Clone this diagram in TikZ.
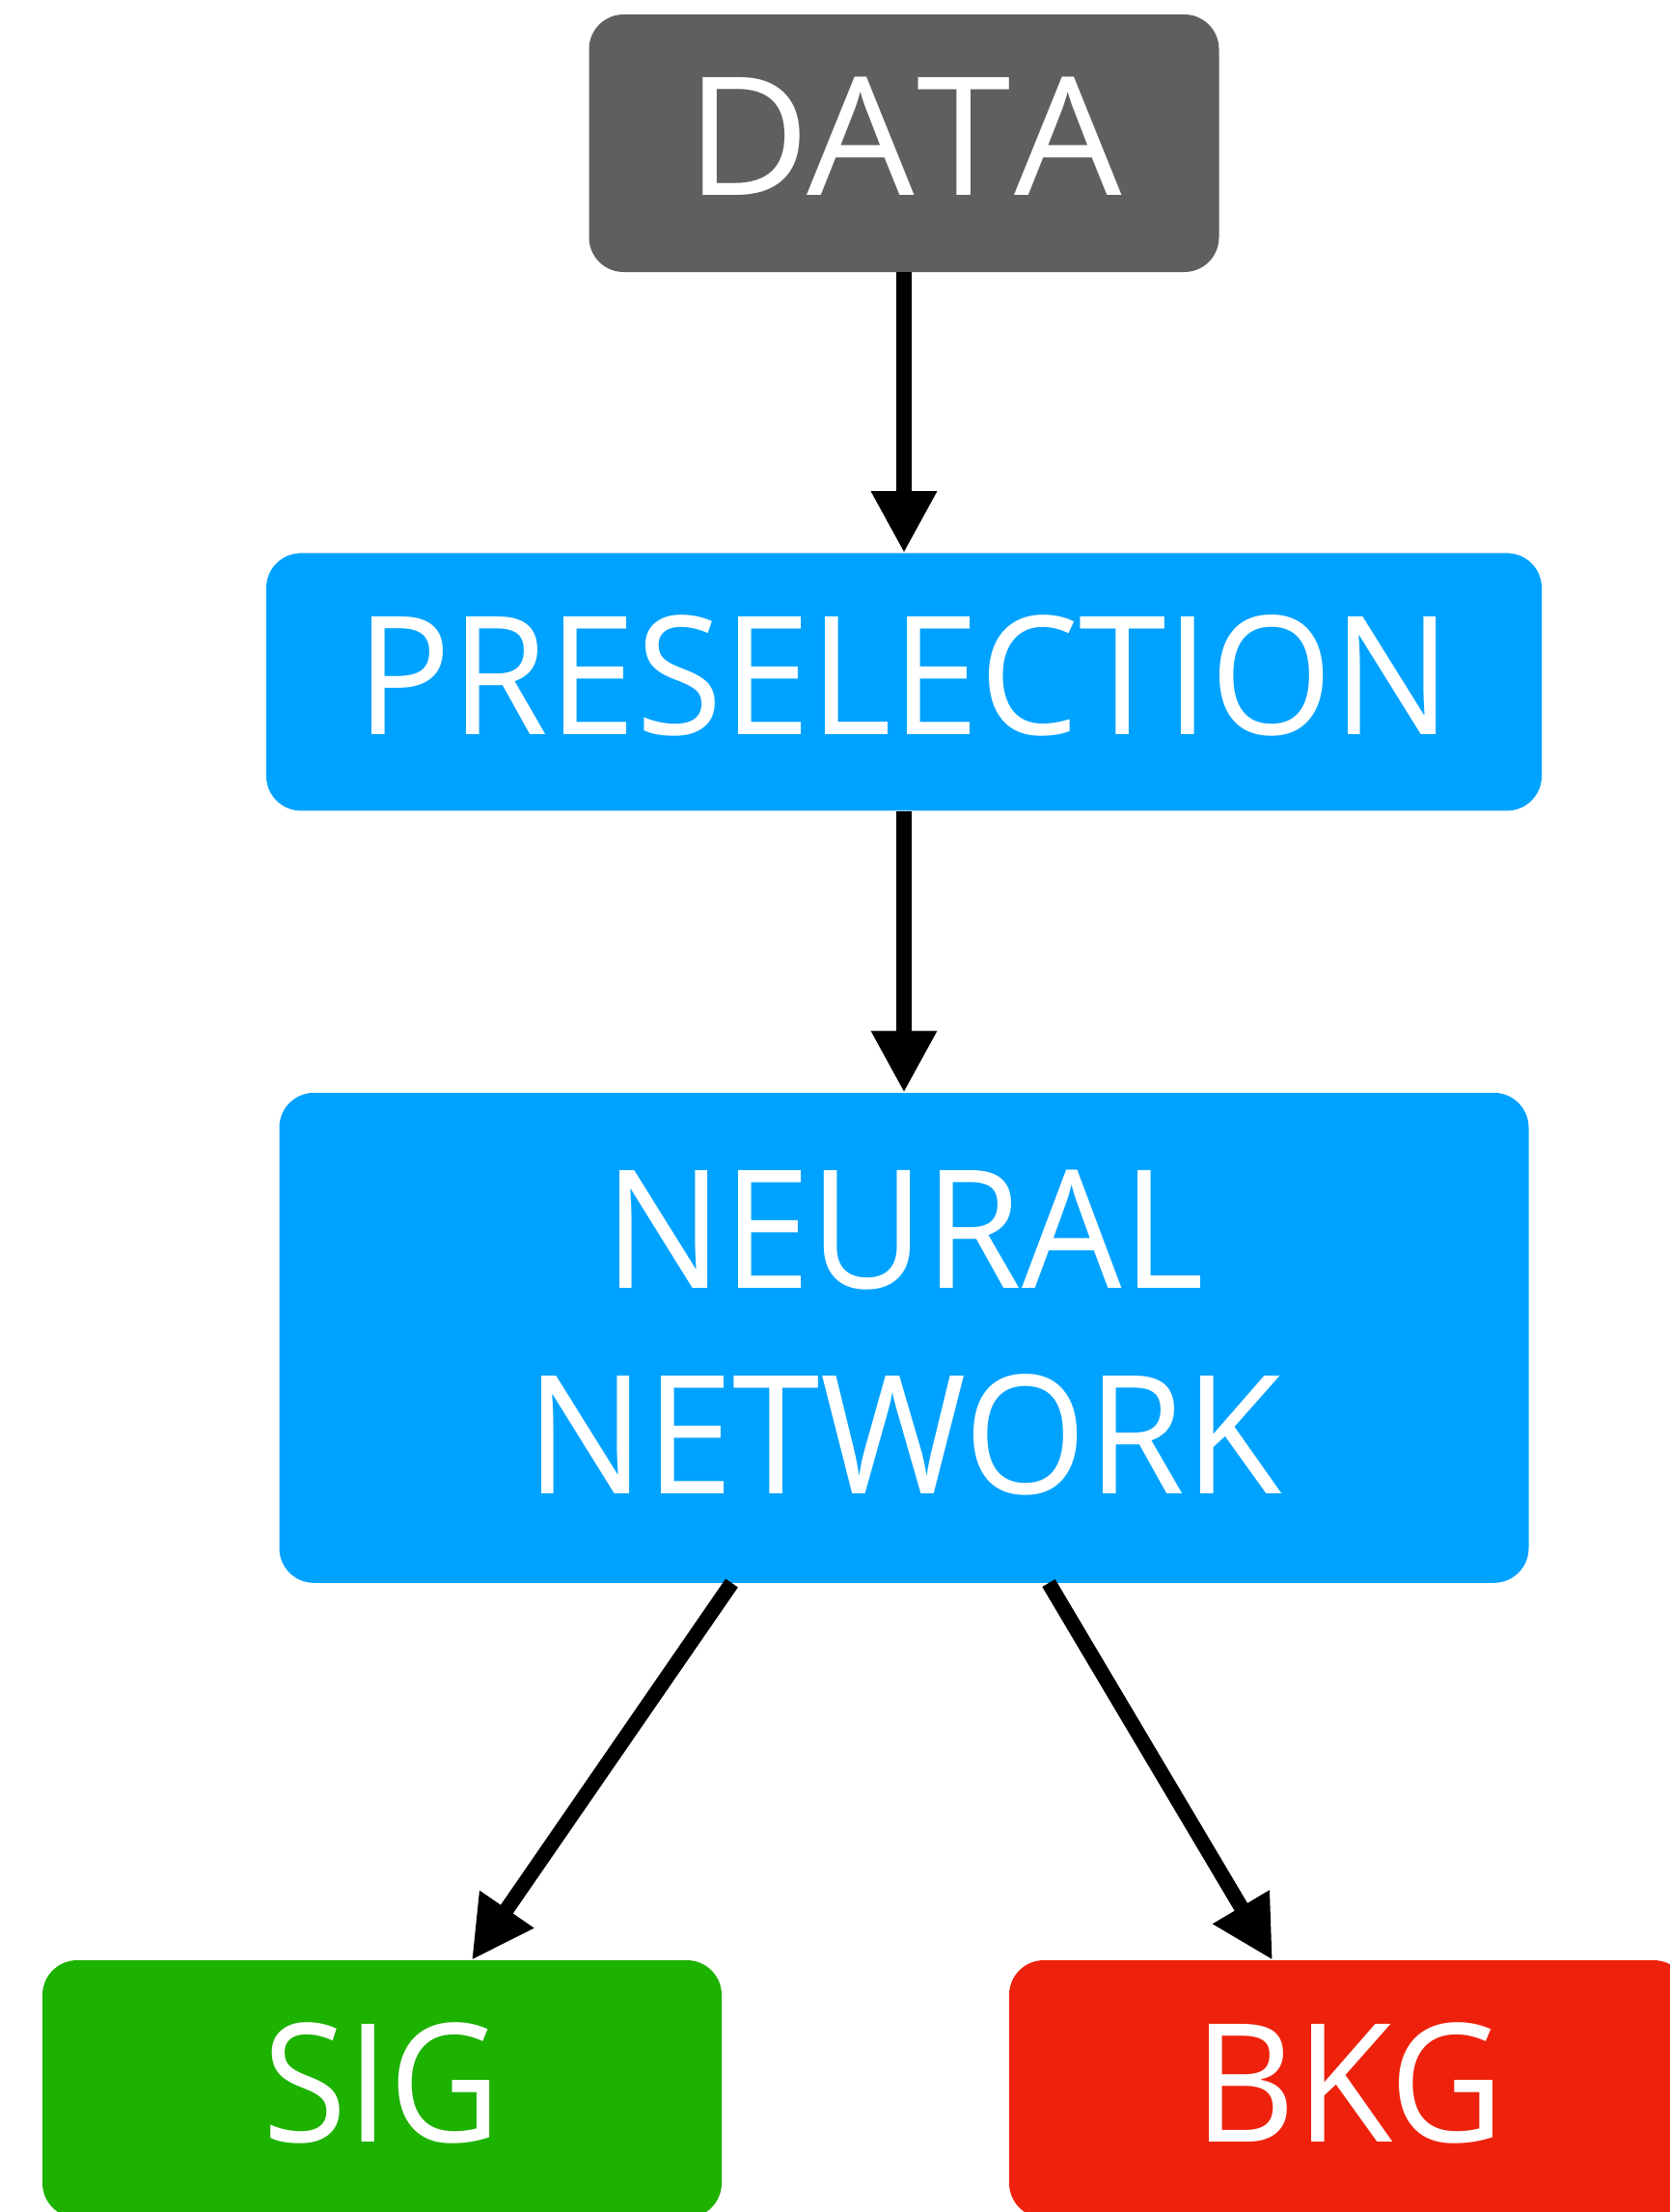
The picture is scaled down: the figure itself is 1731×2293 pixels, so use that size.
\documentclass[tikz,border=0pt]{standalone}
\usepackage{fontspec}
\usepackage{graphicx}
\usepackage{tikz}
\usetikzlibrary{positioning,arrows.meta}
\newfontfamily\flowfont{Open Sans}
\newcommand{\narrow}[2][0.955]{\scalebox{#1}[1]{#2}}
\definecolor{datagray}{RGB}{95,95,95}
\definecolor{keyblue}{RGB}{0,162,255}
\definecolor{keygreen}{RGB}{29,177,0}
\definecolor{keyred}{RGB}{238,34,12}
\tikzset{
    >={Triangle[length=64pt,width=64pt]},
    flowbox/.style={
        rectangle,
        rounded corners=36pt,
        text=white,
        font=\flowfont\fontsize{171}{213}\selectfont,
        align=center,
        inner sep=0pt,
        minimum height=267pt
    },
    flowline/.style={draw, line width=15.5pt, ->}
}

\begin{document}
\begin{tikzpicture}[x=1pt,y=-1pt]
    \useasboundingbox (0,0) rectangle (1731,2293);

    \node[flowbox, fill=datagray, minimum width=653pt, text depth=14pt] (data) at (937,148.5) {\narrow[1.03]{DA\kern3pt T\kern3pt A}};
    \node[flowbox, fill=keyblue, minimum width=1322pt, text depth=14pt, below=291pt of data] (presel) {\narrow{PRESELECTION}};
    \node[flowbox, fill=keyblue, minimum width=1295pt, minimum height=508pt, below=292pt of presel] (nnet)
        {\narrow{NEURAL}\\\narrow{NETWORK}\rule[-12pt]{0pt}{12pt}};
    \node[flowbox, fill=keygreen, minimum width=704pt, text depth=14pt] (sig) at (396,2165.5) {\narrow[0.93]{SIG}};
    \node[flowbox, fill=keyred, minimum width=704pt, text depth=14pt] (bkg) at (1398,2165.5) {\narrow{BKG}};

    \draw[flowline] (data) -- (presel);
    \draw[flowline] (presel) -- (nnet);

    % the two outputs leave the network off centre
    \coordinate (sigfrom) at ([xshift=-178.5pt]nnet.south);
    \coordinate (sigto) at ([xshift=93pt]sig.north);
    \coordinate (bkgfrom) at ([xshift=150pt]nnet.south);
    \coordinate (bkgto) at ([xshift=-79pt]bkg.north);
    \draw[flowline] (sigfrom) -- (sigto);
    \draw[flowline] (bkgfrom) -- (bkgto);
\end{tikzpicture}
\end{document}
